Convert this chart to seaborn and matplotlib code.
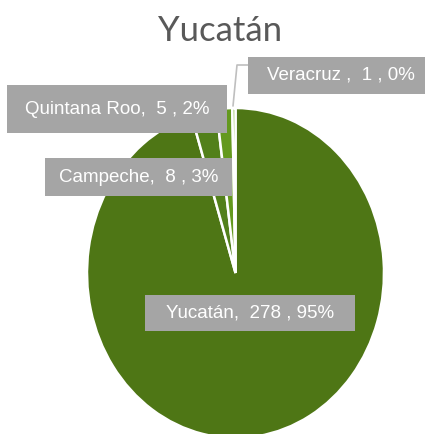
import numpy as np
import pandas as pd
import seaborn as sns
import matplotlib.pyplot as plt
from matplotlib.patches import Rectangle

title = "Yucatán"
states = ["Yucatán", "Campeche", "Quintana Roo", "Veracruz "]
counts = [278, 8, 5, 1]
colors = ["#4E7615", "#52801A", "#64991E", "#7DB52E"]

df = pd.DataFrame({"state": states, "count": counts})
df["pct"] = (df["count"] / df["count"].sum() * 100).round().astype(int)

sns.set_style("white")
plt.rcParams['font.family'] = ['Liberation Sans', 'DejaVu Sans']

W, H = 425, 434
fig = plt.figure(figsize=(W / 100, H / 100), dpi=100)
ax = fig.add_axes([0, 0, 1, 1])

wedges, _ = ax.pie(df["count"], colors=colors, startangle=90, counterclock=False,
                   wedgeprops=dict(edgecolor="white", linewidth=1.8))

# the original pie is a bit stretched vertically
cx, cy, rx, ry = 235.5, 273, 148.5, 165
ax.set_aspect("auto")
ax.set_xlim(-cx / rx, (W - cx) / rx)
ax.set_ylim((cy - H) / ry, cy / ry)
ax.axis("off")


def fig_xy(px, py):
    return px / W, 1 - py / H


# label boxes in pixels: left, top, right, bottom
boxes = [(145, 295, 355, 331), (45, 158, 232, 196), (7, 85, 227, 133), (248, 57, 434, 94)]

for (l, t, r, b), (_, row) in zip(boxes, df.iterrows()):
    x0, y0 = fig_xy(l, b)
    x1, y1 = fig_xy(r, t)
    fig.patches.append(Rectangle((x0, y0), x1 - x0, y1 - y0, transform=fig.transFigure,
                                 facecolor="#A5A5A5", edgecolor="none", zorder=3))
    tx, ty = fig_xy((l + r) / 2, (t + b) / 2)
    fig.text(tx, ty, f"{row['state']},  {row['count']} , {row['pct']}%",
             ha="center", va="center", color="white", fontsize=13.5, zorder=4)

# leader line for the tiny slice
pts = [fig_xy(233, 106), fig_xy(237, 65), fig_xy(248, 65)]
fig.lines.append(plt.Line2D([p[0] for p in pts], [p[1] for p in pts],
                            transform=fig.transFigure, color="#BFBFBF", linewidth=1.2))

tx, ty = fig_xy(220, 41)
fig.text(tx, ty, title, ha="center", va="baseline", fontsize=25, color="#595959",
         family=["Lato", "DejaVu Sans"])

fig.savefig("out.png", dpi=100)
